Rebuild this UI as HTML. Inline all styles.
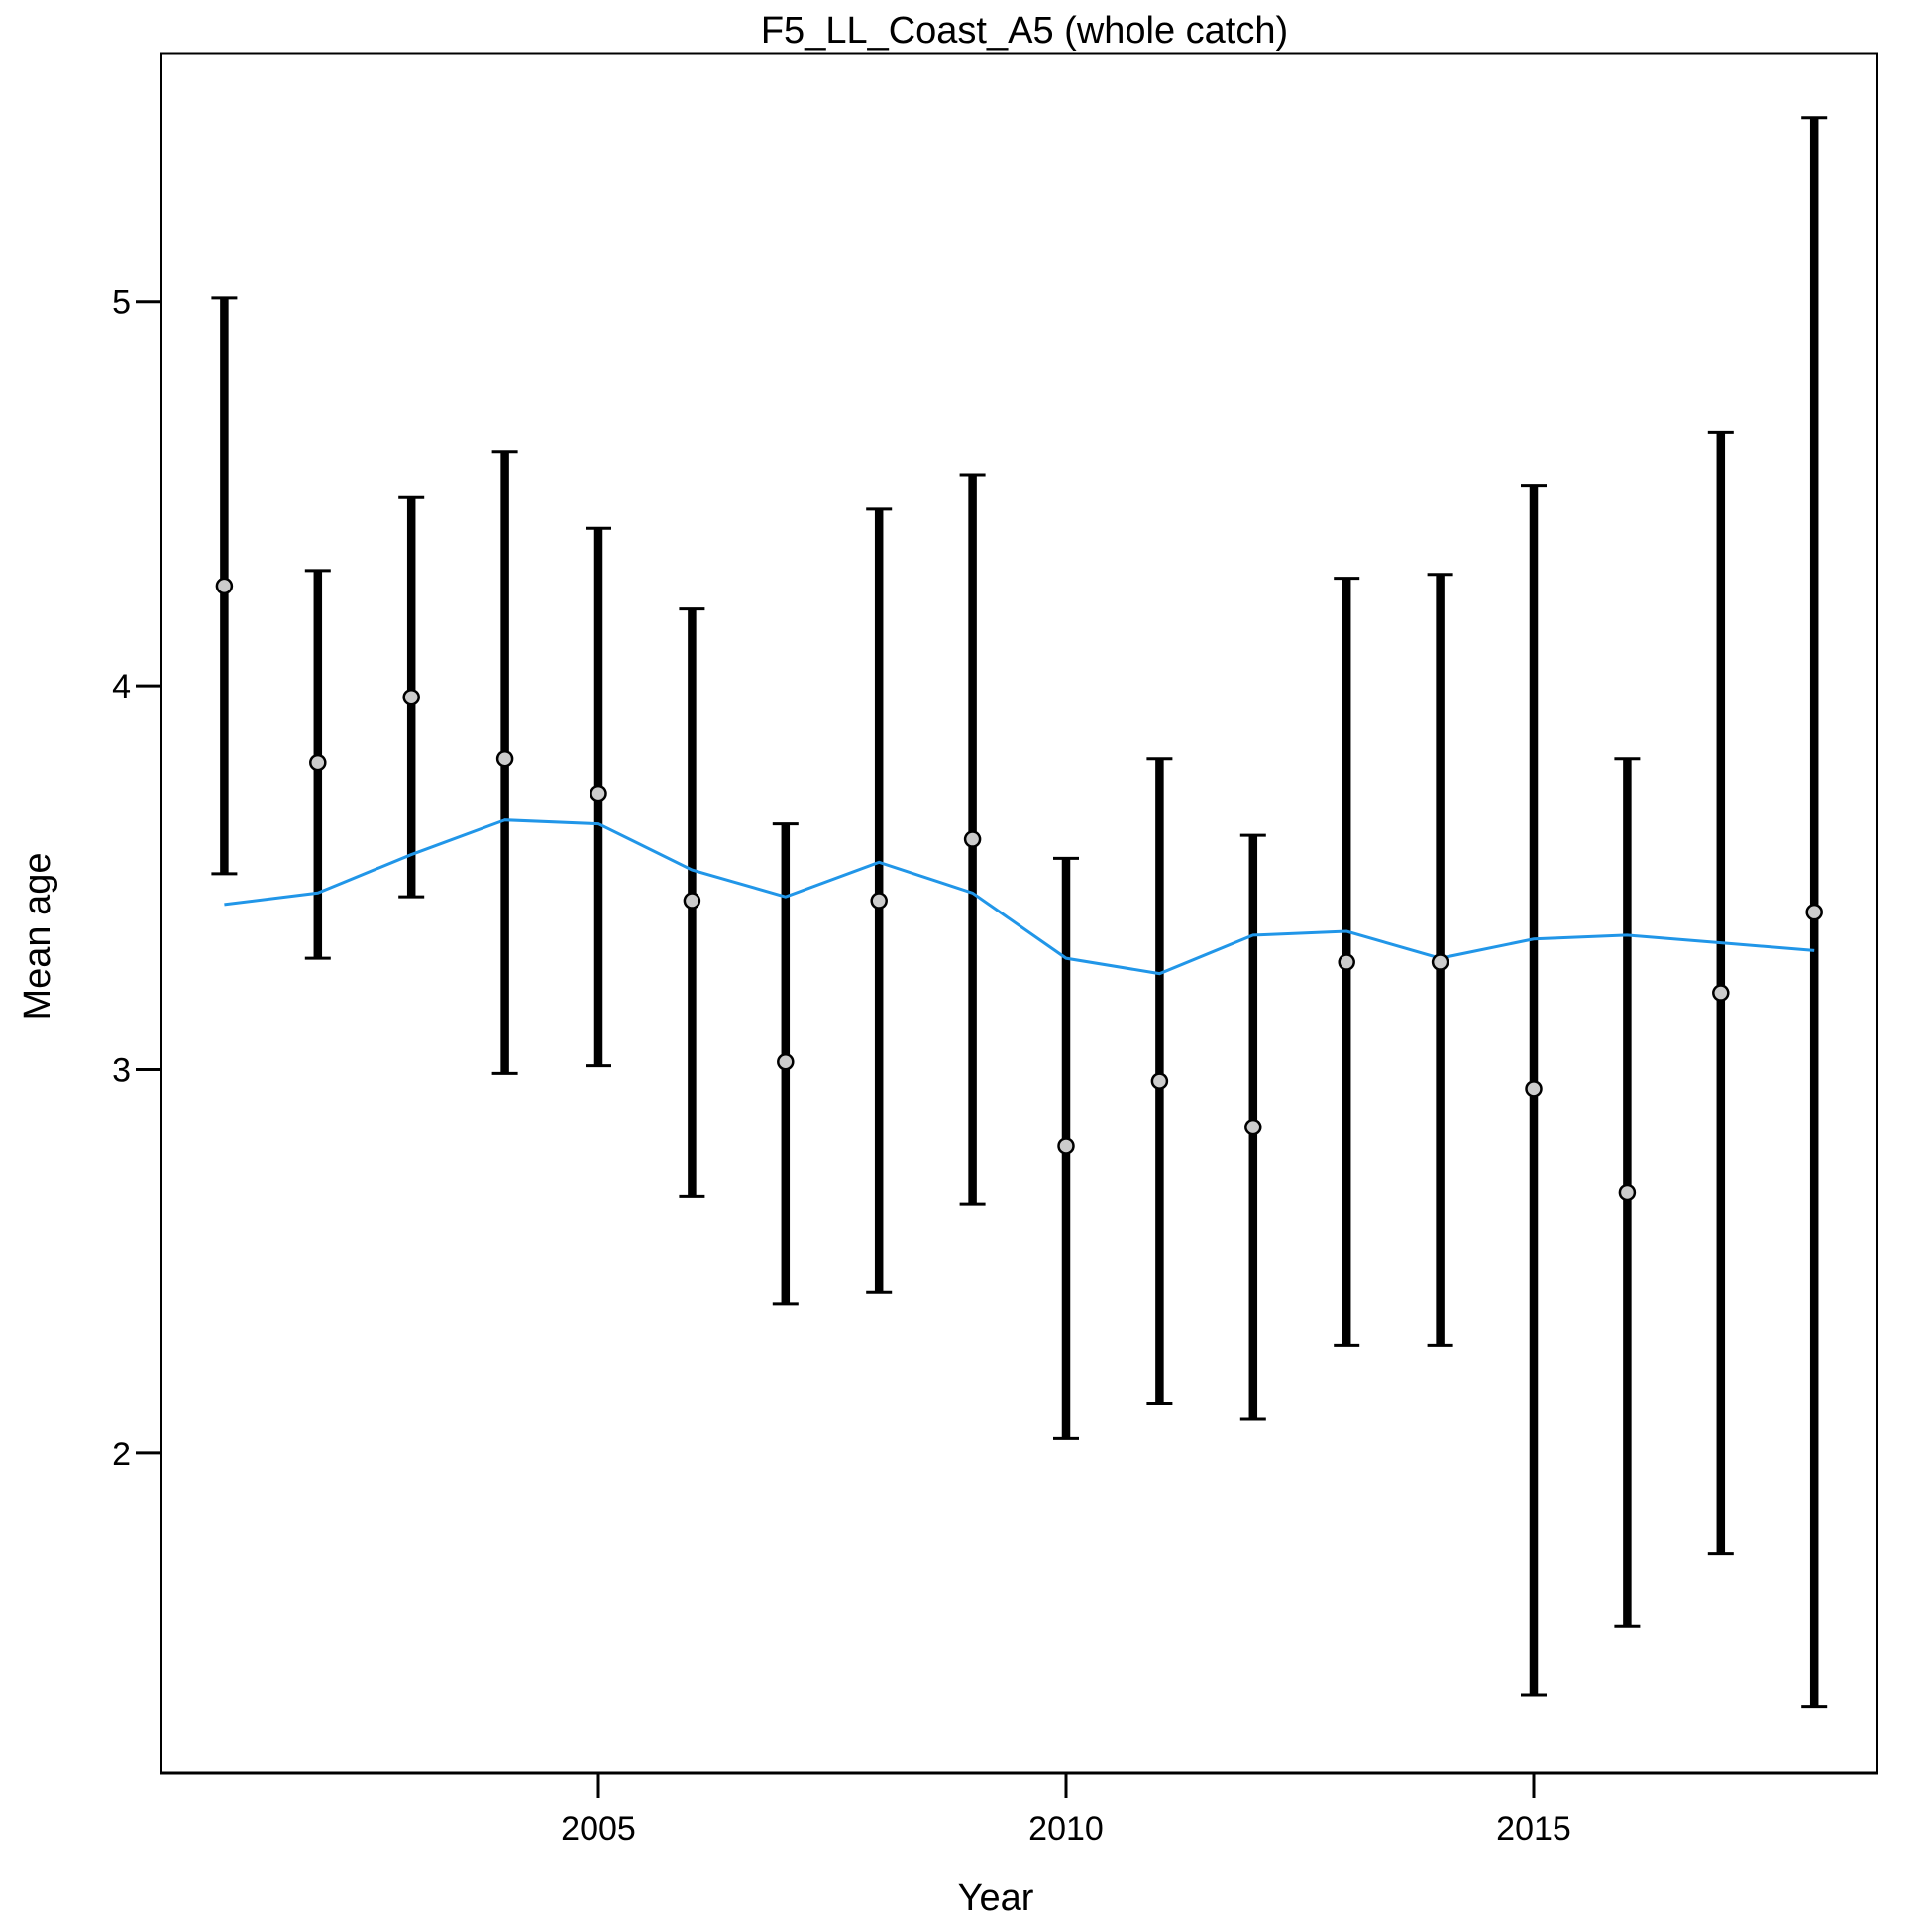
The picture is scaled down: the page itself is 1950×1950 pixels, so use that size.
<!DOCTYPE html>
<html><head><meta charset="utf-8"><style>
html,body{margin:0;padding:0;background:#fff;}
svg{display:block;}
text{font-family:"Liberation Sans",Arial,sans-serif;fill:#000;}
</style></head><body>
<svg id="chart" width="1950" height="1950" viewBox="0 0 1950 1950" xmlns="http://www.w3.org/2000/svg">
<text x="1034" y="43" font-size="38" text-anchor="middle">F5_LL_Coast_A5 (whole catch)</text>
<rect x="162.5" y="54" width="1732" height="1736" fill="none" stroke="#000" stroke-width="3"/>
<g id="xaxis"></g>
<g id="yaxis"></g>
<text x="1005" y="1928" font-size="38" text-anchor="middle">Year</text>
<text x="50" y="945" font-size="38" text-anchor="middle" transform="rotate(-90 50 945)">Mean age</text>
<g id="bars"></g>
<g id="fitg"></g>
<g id="pts"></g>
</svg>
<script>
const years = [2001,2002,2003,2004,2005,2006,2007,2008,2009,2010,2011,2012,2013,2014,2015,2016,2017,2018];
const observed = [4.26,3.80,3.97,3.81,3.72,3.44,3.02,3.44,3.60,2.80,2.97,2.85,3.28,3.28,2.95,2.68,3.20,3.41];
const upper = [5.01,4.30,4.49,4.61,4.41,4.20,3.64,4.46,4.55,3.55,3.81,3.61,4.28,4.29,4.52,3.81,4.66,5.48];
const lower = [3.51,3.29,3.45,2.99,3.01,2.67,2.39,2.42,2.65,2.04,2.13,2.09,2.28,2.28,1.37,1.55,1.74,1.34];
const expected = [3.43,3.46,3.56,3.65,3.64,3.52,3.45,3.54,3.46,3.29,3.25,3.35,3.36,3.29,3.34,3.35,3.33,3.31];
const xTicks = [2005,2010,2015];
const yTicks = [2,3,4,5];

const NS = "http://www.w3.org/2000/svg";
function X(yr){ return 604 + (yr-2005)*94.4; }
function Y(v){ return 304.7 + (5-v)*387.4; }
function mk(tag, attrs, parent){
  const e = document.createElementNS(NS, tag);
  for (const k in attrs) e.setAttribute(k, attrs[k]);
  parent.appendChild(e); return e;
}
const xa = document.getElementById('xaxis');
xTicks.forEach(t=>{
  const l = mk('line',{x1:X(t),x2:X(t),y1:1790,y2:1815,stroke:'#000','stroke-width':3},xa);
  
  
  const tx = mk('text',{x:X(t),y:1857,'font-size':34,'text-anchor':'middle'},xa);
  tx.textContent = t;
  
  
});
const ya = document.getElementById('yaxis');
yTicks.forEach(t=>{
  const l = mk('line',{x1:137,x2:162.5,y1:Y(t),y2:Y(t),stroke:'#000','stroke-width':3},ya);
  
  
  const tx = mk('text',{x:132,y:Y(t)+12,'font-size':34,'text-anchor':'end'},ya);
  tx.textContent = t;
  
  
});
const bg = document.getElementById('bars');
years.forEach((yr,i)=>{
  const x = X(yr);
  const b = mk('line',{x1:x,x2:x,y1:Y(upper[i]),y2:Y(lower[i]),stroke:'#000','stroke-width':8.5},bg);
  
  
  const c1 = mk('line',{x1:x-13,x2:x+13,y1:Y(upper[i]),y2:Y(upper[i]),stroke:'#000','stroke-width':3},bg);
  
  
  const c2 = mk('line',{x1:x-13,x2:x+13,y1:Y(lower[i]),y2:Y(lower[i]),stroke:'#000','stroke-width':3},bg);
  
  
});
const fg = document.getElementById('fitg');
const pl = mk('polyline',{points:years.map((yr,i)=>X(yr)+','+Y(expected[i])).join(' '),fill:'none',stroke:'#2196E8','stroke-width':3},fg);


const pg = document.getElementById('pts');
years.forEach((yr,i)=>{
  const c = mk('circle',{cx:X(yr),cy:Y(observed[i]),r:7.5,fill:'#cccccc',stroke:'#000','stroke-width':2.5},pg);
  
  
});
</script>
</body></html>
